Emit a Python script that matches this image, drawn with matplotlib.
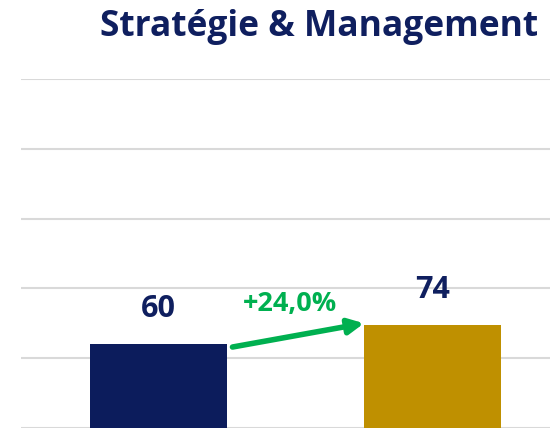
import matplotlib
matplotlib.use("Agg")
import matplotlib.pyplot as plt

title = "Stratégie & Management"
categories = ["Avant", "Après"]
values = [60, 74]
change_label = "+24,0%"
bar_colors = ["#0C1C5C", "#BF9000"]

navy = "#0F1F5F"
green = "#00B050"
font = ["Open Sans", "DejaVu Sans"]

W, H = 550, 432
fig = plt.figure(figsize=(W / 100, H / 100), dpi=100)
ax = fig.add_axes([21 / W, (432 - 428) / H, 1 - 21 / W, (428 - 79) / H])

x = list(range(len(categories)))
width = 0.5
ax.bar(x, values, width=width, color=bar_colors, zorder=3)

ax.set_ylim(0, 250)
ax.set_xlim(-0.502, 1.429)
ax.set_yticks(range(0, 251, 50))
ax.grid(axis="y", color="#D9D9D9", linewidth=1.5, zorder=0)
ax.tick_params(left=False, bottom=False, labelleft=False, labelbottom=False)
for s in ax.spines.values():
    s.set_visible(False)

for xi, v in zip(x, values):
    ax.text(xi, v + 25, f"{v}", ha="center", va="center", fontsize=22,
            fontweight="bold", color=navy, family=font)

ax.annotate("", xy=(x[1] - width / 2, values[1] + 1),
            xytext=(x[0] + width / 2 + 0.02, values[0] - 2),
            arrowprops=dict(arrowstyle="-|>,head_length=0.9,head_width=0.45",
                            color=green, lw=4, shrinkA=0, shrinkB=0),
            zorder=4)
ax.text(0.48, 89, change_label, ha="center", va="center", fontsize=19.5,
        fontweight="bold", color=green, family=font)

fig.text(319 / W, (432 - 36) / H, title, ha="center", va="baseline",
         fontsize=25.5, fontweight="bold", color=navy, family=font)

fig.savefig("out.png", dpi=100)
